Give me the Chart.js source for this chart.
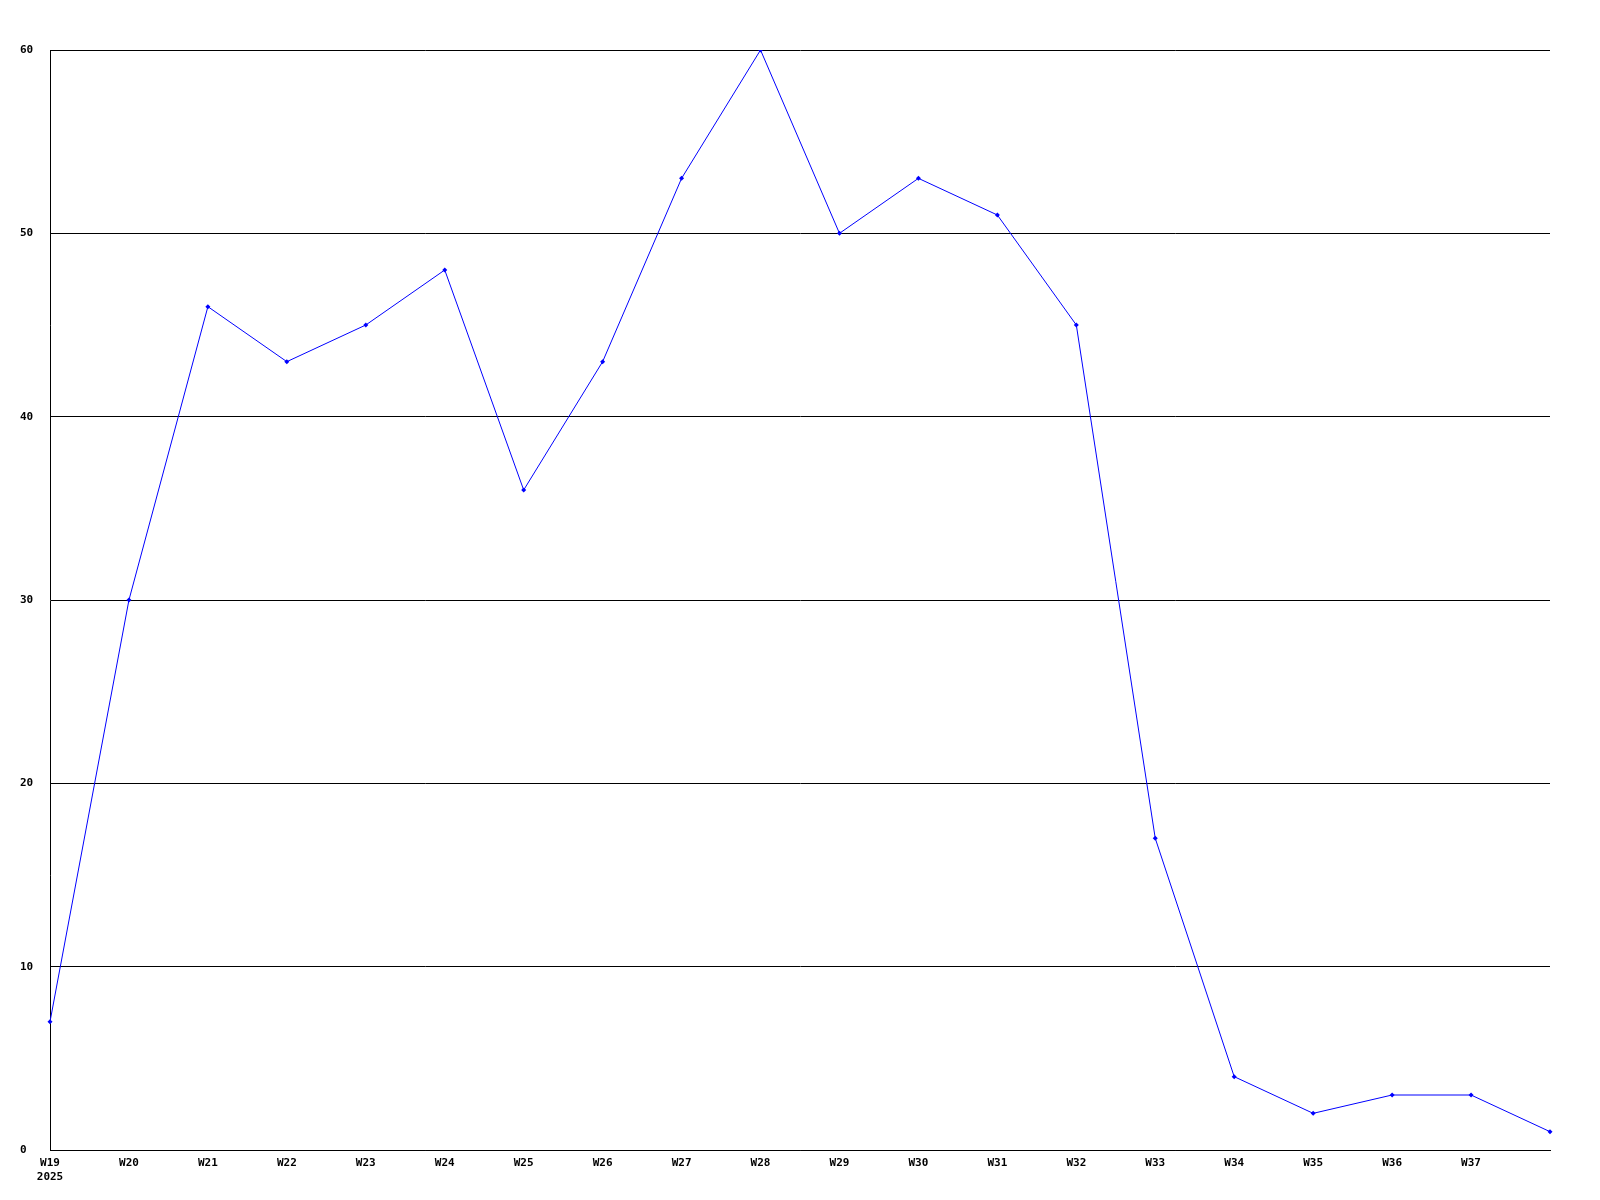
<!DOCTYPE html>
<html>
<head>
<meta charset="utf-8">
<title>Weekly chart</title>
<script src="https://cdn.jsdelivr.net/npm/chart.js@4/dist/chart.umd.min.js"></script>
<style>
  body { margin: 0; background: #fff; }
  canvas { display: block; }
</style>
</head>
<body>
<canvas id="weekChart" width="1600" height="1200"></canvas>
<script>
// Week labels (the last point has no label)
const weekLabels = [
  ["W19", "2025"], "W20", "W21", "W22", "W23", "W24", "W25", "W26", "W27",
  "W28", "W29", "W30", "W31", "W32", "W33", "W34", "W35", "W36", "W37", ""
];

// Values per week
const weekValues = [7, 30, 46, 43, 45, 48, 36, 43, 53, 60, 50, 53, 51, 45, 17, 4, 2, 3, 3, 1];

// Y axis range
const yMin = 0;
const yMax = 60;
const yStep = 10;

const tickFont = { family: "'DejaVu Sans Mono', monospace", size: 11, weight: "bold" };

const ctx = document.getElementById("weekChart").getContext("2d");
new Chart(ctx, {
  type: "line",
  data: {
    labels: weekLabels,
    datasets: [
      {
        data: weekValues,
        borderColor: "#0000ff",
        backgroundColor: "#0000ff",
        borderWidth: 1,
        pointStyle: "rectRot",
        pointRadius: 2.5,
        pointBorderWidth: 0,
        tension: 0,
        fill: false,
      },
    ],
  },
  options: {
    responsive: false,
    animation: false,
    layout: {
      padding: { left: 20, right: 50, top: 50, bottom: 0 },
    },
    plugins: {
      legend: { display: false },
      tooltip: { enabled: false },
    },
    scales: {
      x: {
        offset: false,
        grid: { display: false, drawTicks: false },
        border: { display: true, color: "#000", width: 1 },
        ticks: {
          color: "#000",
          font: tickFont,
          autoSkip: false,
          maxRotation: 0,
          padding: 7,
        },
        afterFit: (axis) => {
          axis.height = 50;
        },
      },
      y: {
        min: yMin,
        max: yMax,
        grid: { color: "#000", lineWidth: 1, drawTicks: false },
        border: { display: true, color: "#000", width: 1 },
        ticks: {
          stepSize: yStep,
          color: "#000",
          font: tickFont,
          crossAlign: "far",
        },
        afterFit: (axis) => {
          axis.width = 30;
        },
      },
    },
  },
});
</script>
</body>
</html>
